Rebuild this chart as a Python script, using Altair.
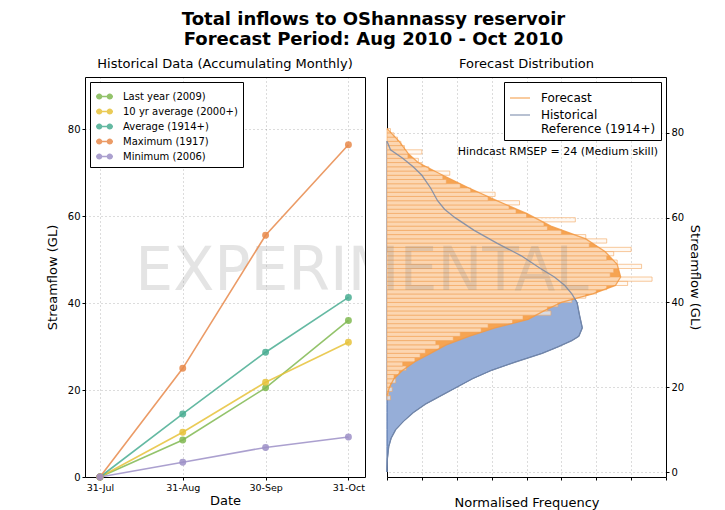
import altair as alt
import pandas as pd

# ---------------- data ----------------
dates = ["31-Jul", "31-Aug", "30-Sep", "31-Oct"]
series_names = ["Last year (2009)", "10 yr average (2000+)", "Average (1914+)",
                "Maximum (1917)", "Minimum (2006)"]
series_colors = ["#80b851", "#e6c23a", "#49ad92", "#e8894b", "#9c8fc7"]
last_year = [0.0, 8.5, 20.5, 36.0]
ten_yr_avg = [0.0, 10.3, 21.8, 31.0]
average = [0.0, 14.5, 28.7, 41.3]
maximum = [0.0, 25.0, 55.6, 76.4]
minimum = [0.0, 3.4, 6.8, 9.2]

# forecast density curve (streamflow GL, normalised frequency)
fc_flow = [18, 20, 22, 24, 26, 28, 30, 32, 34, 36, 38, 40, 42, 44, 46, 49, 52,
           55, 58, 61, 64, 67, 70, 73, 75, 78, 81]
fc_dens = [0.0, 0.07, 0.2, 0.45, 0.8, 1.25, 1.7, 2.35, 3.1, 4.05, 4.5, 5.0, 5.9,
           6.55, 6.7, 6.6, 6.25, 5.7, 4.7, 4.0, 3.15, 2.35, 1.6, 0.89, 0.62, 0.35, 0.0]

# historical reference density curve
hist_flow = [0, 3, 6, 8, 10, 12, 14, 16, 18, 20, 22, 24, 26, 28, 29.5, 31, 32, 34,
             37, 40, 42, 44, 46, 48, 51, 54, 57, 60, 62, 64, 67, 70, 72, 74, 76, 78]
hist_dens = [0.0, 0.01, 0.05, 0.12, 0.25, 0.48, 0.75, 1.1, 1.55, 2.0, 2.45, 3.0,
             3.7, 4.45, 4.9, 5.3, 5.5, 5.6, 5.52, 5.45, 5.3, 5.1, 4.8, 4.4, 3.85,
             3.15, 2.5, 1.95, 1.65, 1.45, 1.25, 1.0, 0.75, 0.45, 0.1, 0.0]

# forecast histogram (1 GL bins, lower edges)
bin_lo = list(range(17, 81))
bin_val = [0.1, 0.05, 0.15, 0.1, 0.25, 0.2, 0.35, 0.55, 0.45, 0.8, 0.95, 1.1, 1.5,
           1.4, 1.9, 2.1, 2.7, 2.9, 3.6, 3.9, 4.7, 4.6, 4.9, 5.3, 5.7, 6.0, 6.3,
           6.9, 7.6, 6.4, 6.5, 7.3, 6.6, 6.3, 6.5, 7.0, 5.8, 6.3, 5.7, 5.0, 4.6,
           4.5, 5.4, 4.0, 3.7, 3.5, 3.8, 2.9, 3.1, 2.4, 2.1, 1.7, 1.6, 1.8, 1.2,
           1.0, 0.9, 0.6, 1.0, 0.5, 0.4, 0.3, 0.2, 0.1]

legend_right = ["Forecast", "Historical Reference (1914+)"]
legend_right_colors = ["#f39a44", "#7688a8"]

FONT = "DejaVu Sans"

# ---------------- left panel ----------------
rows = []
for name, vals in zip(series_names, [last_year, ten_yr_avg, average, maximum, minimum]):
    for i, v in enumerate(vals):
        rows.append({"series": name, "idx": i, "flow": v})
left_df = pd.DataFrame(rows)

label_expr = "[" + ",".join(f"'{d}'" for d in dates) + "][datum.value]"

y_scale = alt.Scale(domain=[0, 92], nice=False, zero=False)

x_left = alt.X("idx:Q", scale=alt.Scale(domain=[-0.18, 3.2], nice=False, zero=False),
               axis=alt.Axis(values=[0, 1, 2, 3], labelExpr=label_expr, title="Date",
                             labelFontSize=9.5, titlePadding=3))
y_left = alt.Y("flow:Q", scale=y_scale,
               axis=alt.Axis(values=[0, 20, 40, 60, 80], title="Streamflow (GL)",
                             titlePadding=8))

sym_path = ("M-1,-0.09L1,-0.09L1,0.09L-1,0.09Z "
            "M-0.98,0A0.36,0.36 0 1,1 -0.26,0A0.36,0.36 0 1,1 -0.98,0Z "
            "M0.26,0A0.36,0.36 0 1,1 0.98,0A0.36,0.36 0 1,1 0.26,0Z")

lines_left = alt.Chart(left_df).mark_line(strokeWidth=1.6, opacity=0.85).encode(
    x=x_left, y=y_left,
    stroke=alt.Stroke("series:N", scale=alt.Scale(domain=series_names, range=series_colors),
                      legend=None),
    detail="series:N",
)
points_left = alt.Chart(left_df).mark_point(filled=True, size=48, opacity=0.85).encode(
    x=x_left, y=y_left,
    color=alt.Color("series:N", scale=alt.Scale(domain=series_names, range=series_colors),
                    sort=series_names,
                    legend=alt.Legend(title=None, orient="top-left", offset=5,
                                      symbolType=sym_path, symbolSize=289,
                                      symbolOpacity=0.85, labelFontSize=10,
                                      labelOffset=9, rowPadding=0, padding=5,
                                      strokeColor="black", fillColor="white",
                                      cornerRadius=0, labelFont=FONT,
                                      labelLimit=300)),
)

wm_df = pd.DataFrame({"t": ["EXPERIMENTAL"]})
watermark_left = alt.Chart(wm_df).mark_text(
    fontSize=60, font=FONT, color="#888888", opacity=0.22, clip=True,
    align="center", baseline="middle"
).encode(text="t:N", x=alt.value(277), y=alt.value(195))

left = alt.layer(watermark_left, lines_left, points_left).properties(
    width=280, height=400,
    title=alt.TitleParams("Historical Data (Accumulating Monthly)", fontSize=13,
                          fontWeight="normal", font=FONT, offset=6, anchor="middle"),
)

# ---------------- right panel ----------------
fc_df = pd.DataFrame({"flow": fc_flow, "dens": fc_dens})
hi_df = pd.DataFrame({"flow": hist_flow, "dens": hist_dens})
bins_df = pd.DataFrame({"flow": bin_lo, "dens": bin_val})

line_rows = [{"kind": legend_right[0], "flow": f, "dens": d} for f, d in zip(fc_flow, fc_dens)]
line_rows += [{"kind": legend_right[1], "flow": f, "dens": d} for f, d in zip(hist_flow, hist_dens)]
lines_df = pd.DataFrame(line_rows)

x_right = alt.X("dens:Q", scale=alt.Scale(domain=[0, 8], nice=False, zero=False),
                axis=alt.Axis(values=list(range(9)), labels=False,
                              title="Normalised Frequency", titlePadding=16))
y_right = alt.Y("flow:Q", scale=y_scale,
                axis=alt.Axis(orient="right", values=[0, 20, 40, 60, 80],
                              title="Streamflow (GL)", titlePadding=4))

hist_area = alt.Chart(hi_df).mark_area(
    orient="horizontal", color="#96aed8", stroke="#4d6ca5", strokeWidth=1
).encode(x=x_right, y=y_right)

fc_area = alt.Chart(fc_df).mark_area(
    orient="horizontal", color="#f6a452"
).encode(x=x_right, y=y_right)

bars = alt.Chart(bins_df).transform_calculate(
    flow_hi="datum.flow + 1", zero="0"
).mark_bar(fill="#fff6ec", fillOpacity=0.62, stroke="#f2a55c", strokeWidth=0.6,
           orient="horizontal").encode(
    x=x_right, x2="zero:Q", y=y_right, y2="flow_hi:Q"
)

lines_right = alt.Chart(lines_df).mark_line(strokeWidth=1.3, opacity=0.85).encode(
    x=x_right, y=y_right, order=alt.Order("flow:Q"),
    color=alt.Color("kind:N", scale=alt.Scale(domain=legend_right, range=legend_right_colors),
                    legend=alt.Legend(title=None, orient="top-right", offset=5,
                                      symbolType="stroke", symbolSize=400,
                                      symbolStrokeWidth=1.2, labelFontSize=12,
                                      labelFont=FONT, labelOffset=10, padding=5,
                                      rowPadding=0,
                                      strokeColor="black", fillColor="white",
                                      cornerRadius=0, labelLimit=300,
                                      labelExpr="datum.label == 'Historical Reference (1914+)' ? ['Historical', ' Reference (1914+)'] : datum.label")),
)

watermark_right = alt.Chart(wm_df).mark_text(
    fontSize=60, font=FONT, color="#888888", opacity=0.22, clip=True,
    align="center", baseline="middle"
).encode(text="t:N", x=alt.value(-25), y=alt.value(195))

note_df = pd.DataFrame({"t": ["Hindcast RMSEP = 24 (Medium skill)"]})
note = alt.Chart(note_df).mark_text(
    fontSize=11, font=FONT, color="black", align="right", baseline="middle"
).encode(text="t:N", x=alt.value(271), y=alt.value(75))

right = alt.layer(hist_area, fc_area, bars, lines_right, watermark_right, note).properties(
    width=279, height=400,
    title=alt.TitleParams("Forecast Distribution", fontSize=13, fontWeight="normal",
                          font=FONT, offset=6, anchor="middle"),
)

chart = alt.hconcat(left, right, spacing=22, bounds="flush").resolve_scale(
    color="independent"
).resolve_legend(color="independent").properties(
    title=alt.TitleParams(["Total inflows to OShannassy reservoir",
                           "Forecast Period: Aug 2010 - Oct 2010"],
                          fontSize=18, fontWeight="bold", font=FONT, anchor="middle",
                          lineHeight=20, offset=9),
    padding={"left": 37, "top": 2, "right": 10, "bottom": 2},
    background="white",
).configure_view(
    stroke="black", strokeWidth=1
).configure_axis(
    labelFont=FONT, titleFont=FONT, labelFontSize=10, titleFontSize=13,
    titleFontWeight="normal", labelColor="black", titleColor="black",
    tickColor="black", tickSize=3, labelPadding=2, domain=False,
    grid=True, gridColor="#000000", gridOpacity=0.4, gridWidth=0.7, gridDash=[1, 3],
    zindex=1,
)

chart.save("out.html", embed_options={"renderer": "svg", "actions": False})
